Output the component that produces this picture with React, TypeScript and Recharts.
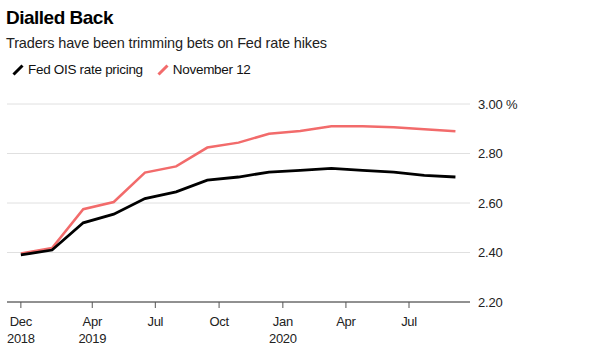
import { LineChart, Line, XAxis, YAxis, CartesianGrid } from 'recharts'

const FONT = '"Liberation Sans", Arial, sans-serif'

// dates of each pricing point (roughly every six weeks)
const dates = [
  '2018-12-19', '2019-02-02', '2019-03-19', '2019-05-02', '2019-06-16',
  '2019-07-31', '2019-09-14', '2019-10-29', '2019-12-12', '2020-01-26',
  '2020-03-11', '2020-04-25', '2020-06-09', '2020-07-23', '2020-09-06',
]
const fedOis = [2.39, 2.41, 2.52, 2.555, 2.618, 2.645, 2.692, 2.705, 2.725, 2.732, 2.74, 2.732, 2.725, 2.712, 2.705]
const nov12 = [2.396, 2.418, 2.575, 2.604, 2.723, 2.748, 2.824, 2.844, 2.88, 2.891, 2.91, 2.91, 2.906, 2.898, 2.89]

const tickDates = ['2018-12-19', '2019-04-01', '2019-07-01', '2019-10-01', '2020-01-01', '2020-04-01', '2020-07-01']
const tickMonths = ['Dec', 'Apr', 'Jul', 'Oct', 'Jan', 'Apr', 'Jul']
const tickYears = ['2018', '2019', '', '', '2020', '', '']
const yTicks = [2.2, 2.4, 2.6, 2.8, 3.0]

const ms = (d: string) => Date.parse(d + 'T00:00:00Z')

const data = dates.map((d, i) => ({ t: ms(d), ois: fedOis[i], nov: nov12[i] }))
const xTicks = tickDates.map(ms)

const XTick = ({ x, y, payload }: any) => {
  const i = xTicks.indexOf(payload.value)
  return (
    <text x={x} y={y} textAnchor="middle" fill="#222" fontSize={13} fontFamily={FONT} letterSpacing={-0.3}>
      <tspan x={x} dy={14}>{tickMonths[i]}</tspan>
      {tickYears[i] && <tspan x={x} dy={17}>{tickYears[i]}</tspan>}
    </text>
  )
}

const YTick = ({ x, y, payload }: any) => (
  <text x={x} y={y} dy={4.5} textAnchor="start" fill="#222" fontSize={13} fontFamily={FONT} letterSpacing={-0.2}>
    {payload.value.toFixed(2) + (payload.value === 3 ? ' %' : '')}
  </text>
)

const LegendMark = ({ color }: { color: string }) => (
  <svg width={12} height={12} style={{ marginRight: 4, verticalAlign: -1 }}>
    <line x1={1.5} y1={10.5} x2={10.5} y2={1.5} stroke={color} strokeWidth={3} />
  </svg>
)

export default function App() {
  return (
    <div style={{ position: 'absolute', left: 0, top: 0, width: 606, height: 356, background: '#fff', fontFamily: FONT }}>
      <div style={{ position: 'absolute', left: 6, top: 7, fontSize: 19, fontWeight: 700, color: '#000', letterSpacing: -0.5 }}>
        Dialled Back
      </div>
      <div style={{ position: 'absolute', left: 6, top: 35, fontSize: 14.5, color: '#222', letterSpacing: -0.15 }}>
        Traders have been trimming bets on Fed rate hikes
      </div>
      <div style={{ position: 'absolute', left: 12, top: 62, fontSize: 13.5, color: '#111', letterSpacing: -0.3, display: 'flex', alignItems: 'center' }}>
        <LegendMark color="#000" />
        <span style={{ marginRight: 14 }}>Fed OIS rate pricing</span>
        <LegendMark color="#f26b6b" />
        <span>November 12</span>
      </div>
      <div style={{ position: 'absolute', left: 0, top: 90 }}>
        <LineChart width={606} height={266} data={data} margin={{ top: 14, right: 0, bottom: 0, left: 7 }}>
          <CartesianGrid vertical={false} stroke="#e0e0e0" />
          <XAxis
            dataKey="t"
            type="number"
            scale="time"
            domain={[ms('2018-11-29'), ms('2020-09-27')]}
            ticks={xTicks}
            tick={<XTick />}
            axisLine={{ stroke: '#333' }}
            tickLine={{ stroke: '#555' }}
            tickSize={6}
            tickMargin={4}
            height={54}
            interval={0}
          />
          <YAxis
            orientation="right"
            domain={[2.2, 3.0]}
            ticks={yTicks}
            tick={<YTick />}
            axisLine={false}
            tickLine={false}
            width={136}
            interval={0}
          />
          <Line type="linear" dataKey="nov" stroke="#f26b6b" strokeWidth={2.5} dot={false} isAnimationActive={false} />
          <Line type="linear" dataKey="ois" stroke="#000" strokeWidth={2.8} dot={false} isAnimationActive={false} />
        </LineChart>
      </div>
    </div>
  )
}
